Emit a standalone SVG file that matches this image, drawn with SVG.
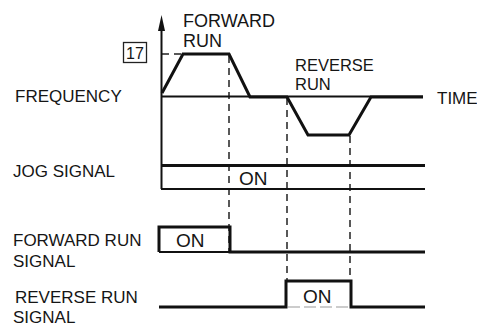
<svg xmlns="http://www.w3.org/2000/svg" width="477" height="326" viewBox="0 0 477 326">
<style>
text{font-family:"Liberation Sans",Arial,sans-serif;font-size:17px;fill:#151515}
.on{font-size:19px}
.lbl{font-size:16.5px}
.thick{fill:none;stroke:#111;stroke-width:3;stroke-linejoin:miter}
.thin{fill:none;stroke:#111;stroke-width:1.8}
.dash{fill:none;stroke:#222;stroke-width:1.5;stroke-dasharray:7 5}
</style>
<rect width="477" height="326" fill="#fff"/>
<g id="connectors">
<line class="dash" x1="162" y1="54" x2="183" y2="54"/>
<line class="dash" x1="229" y1="56" x2="229" y2="252"/>
<line class="dash" x1="287" y1="98" x2="287" y2="281"/>
<line class="dash" x1="350" y1="136" x2="350" y2="281"/>
</g>
<g id="axis">
<line x1="161.5" y1="189" x2="161.5" y2="28" stroke="#111" stroke-width="2"/>
<polygon points="161.5,15 165,31 158,31" fill="#111"/>
<g id="value17">
<rect x="123.5" y="42.5" width="23" height="20" fill="none" stroke="#222" stroke-width="1.3"/>
<text x="135" y="59" text-anchor="middle" style="font-size:16px">17</text>
</g>
</g>
<g id="frequency">
<text x="15" y="101.5">FREQUENCY</text>
<line class="thin" x1="162" y1="96.5" x2="423" y2="96.5"/>
<path class="thick" d="M162,93 L183,54 L229,54 L250,97 L287,97 L308,135 L349,135 L371,97 L423,97"/>
<text x="437" y="104">TIME</text>
<text class="lbl" x="183" y="27" style="font-size:18px">FORWARD</text>
<text class="lbl" x="183" y="47" style="font-size:18px">RUN</text>
<text class="lbl" x="295" y="71">REVERSE</text>
<text class="lbl" x="295" y="90">RUN</text>
</g>
<g id="jog">
<text x="13" y="177">JOG SIGNAL</text>
<line class="thick" x1="161" y1="165.5" x2="425" y2="165.5"/>
<line class="thin" x1="161" y1="189" x2="425" y2="189"/>
<text class="on" x="239" y="185">ON</text>
</g>
<g id="forward-run">
<text x="13" y="246">FORWARD RUN</text>
<text x="13" y="267">SIGNAL</text>
<path class="thick" d="M159,252 L159,227 L230,227 L230,252 L425,252"/>
<line class="thin" x1="159" y1="252" x2="230" y2="252" stroke-width="1.5"/>
<text class="on" x="176" y="247">ON</text>
</g>
<g id="reverse-run">
<text x="15" y="303">REVERSE RUN</text>
<text x="13" y="323">SIGNAL</text>
<path class="thick" d="M159,307 L286,307 L286,281 L351,281 L351,307 L425,307"/>
<line x1="288" y1="307" x2="349" y2="307" stroke="#999" stroke-width="1.2" stroke-dasharray="12 4"/>
<text class="on" x="303" y="303">ON</text>
</g>
</svg>
